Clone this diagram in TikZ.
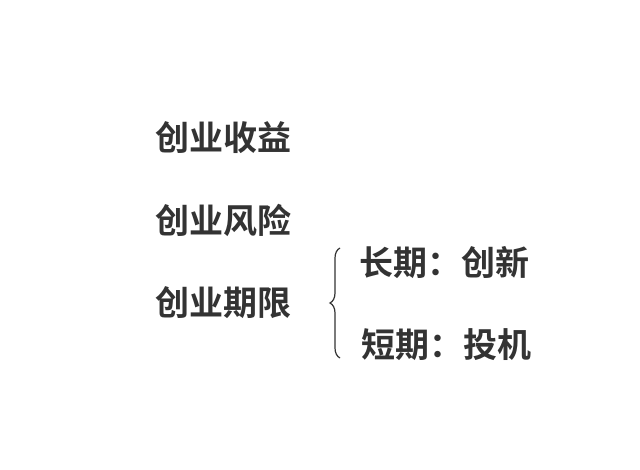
\documentclass[tikz,border=0pt]{standalone}
\usepackage{fontspec}
\newfontfamily\cjk{Noto Sans CJK SC Bold}
\usetikzlibrary{decorations.pathreplacing}
\definecolor{txt}{HTML}{333333}
\begin{document}
\begin{tikzpicture}[x=1pt,y=-1pt,
  lbl/.style={font=\cjk\fontsize{34}{38}\selectfont, text=txt, inner sep=0pt}]
\useasboundingbox[fill=white] (0,0) rectangle (640,470);
\node[lbl] (a) at (223,138) {创业收益};
\node[lbl] (b) at (223,220) {创业风险};
\node[lbl] (c) at (223,303) {创业期限};
\node[lbl] (d) at (444,263) {长期：创新};
\node[lbl] (e) at (446,345) {短期：投机};
\coordinate (t) at (340,248);
\coordinate (u) at (340,358);
\draw[txt, line width=1.2pt, decorate, decoration={brace, amplitude=10pt}] (u) -- (t);
\end{tikzpicture}
\end{document}
